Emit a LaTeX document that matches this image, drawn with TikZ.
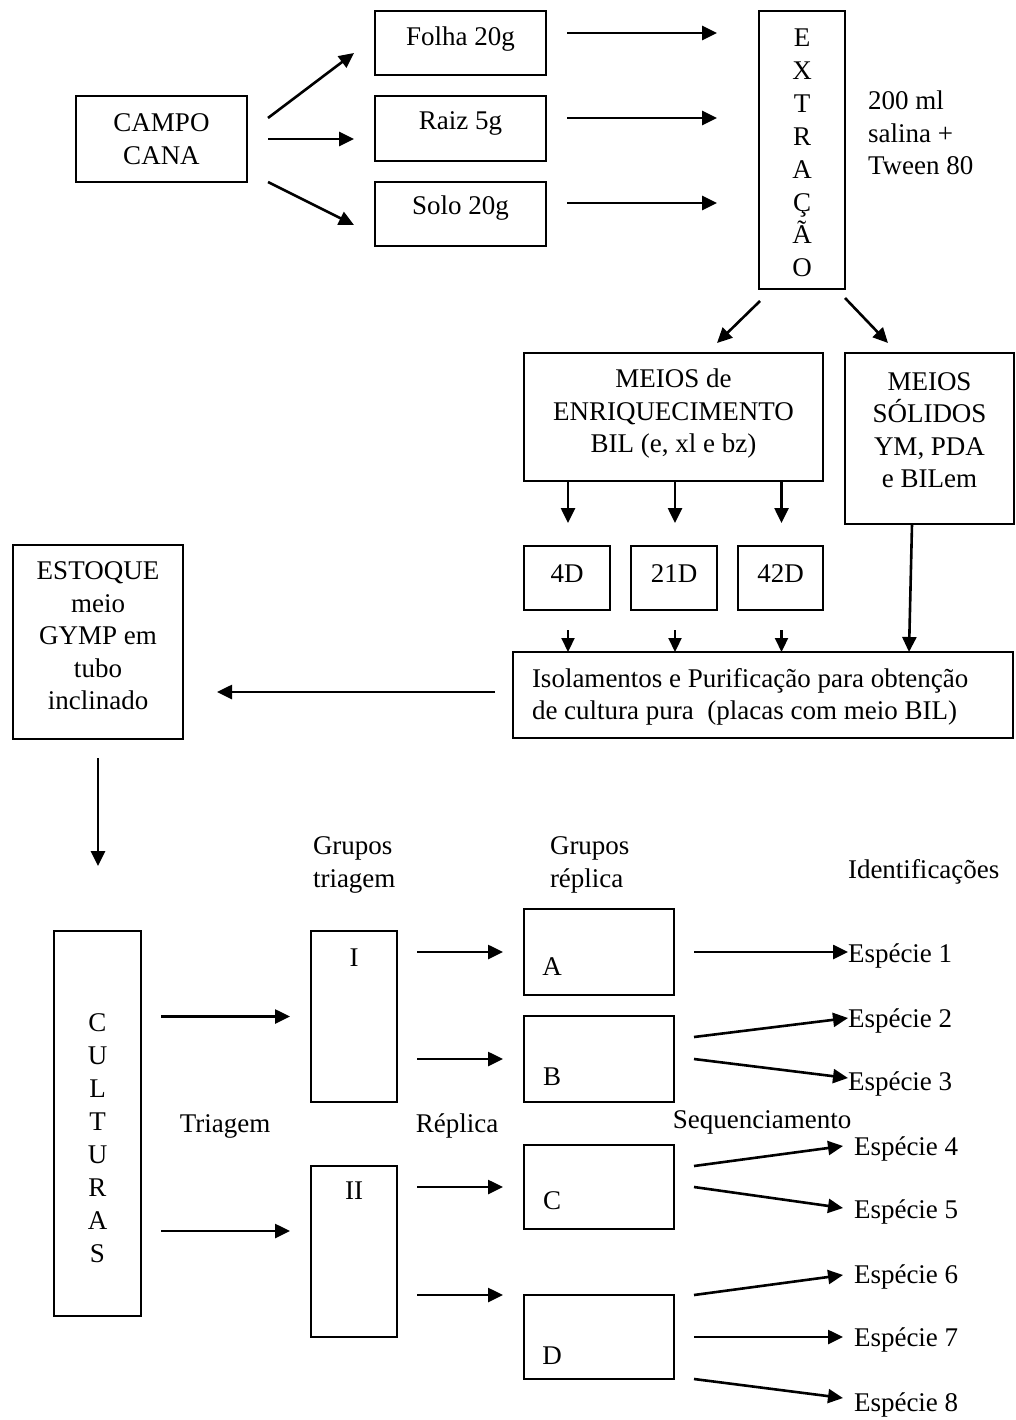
\documentclass[tikz,border=0pt]{standalone}
\usepackage{fontspec}
\setmainfont{Liberation Serif}
\usetikzlibrary{arrows.meta,calc}
\newcommand{\fsz}{\fontsize{27}{32.5}\selectfont}
\begin{document}
\begin{tikzpicture}[x=1pt,y=-1pt,
  box/.style={draw, line width=1.6pt, inner sep=0pt, outer sep=0pt},
  txt/.style={inner sep=0pt, outer sep=0pt, font=\fsz, align=center},
  ltxt/.style={inner sep=0pt, outer sep=0pt, font=\fsz, align=left, anchor=west},
  arr/.style={line width=2.6pt, -{Triangle[length=15pt,width=14pt]}},
  sarr/.style={line width=2.2pt, -{Triangle[length=14pt,width=13pt]}}]
\useasboundingbox[fill=white] (0,0) rectangle (1015,1420);

% ---- boxes ----
\node[box, minimum width=171pt, minimum height=86pt] (campo) at (161.5,139) {};
\node[box, minimum width=171pt, minimum height=64pt] (folha) at (460.5,43) {};
\node[box, minimum width=171pt, minimum height=65pt] (raiz) at (460.5,128.5) {};
\node[box, minimum width=171pt, minimum height=64pt] (solo) at (460.5,214) {};
\node[box, minimum width=86pt, minimum height=278pt] (extr) at (802,150) {};
\node[box, minimum width=299pt, minimum height=128pt] (meios) at (673.5,417) {};
\node[box, minimum width=169pt, minimum height=171pt] (solidos) at (929.5,438.5) {};
\node[box, minimum width=86pt, minimum height=64pt] (d4) at (567,578) {};
\node[box, minimum width=86pt, minimum height=64pt] (d21) at (674,578) {};
\node[box, minimum width=85pt, minimum height=64pt] (d42) at (780.5,578) {};
\node[box, minimum width=500pt, minimum height=86pt] (iso) at (763,695) {};
\node[box, minimum width=170pt, minimum height=194pt] (estoque) at (98,642) {};
\node[box, minimum width=87pt, minimum height=385pt] (cult) at (97.5,1123.5) {};
\node[box, minimum width=86pt, minimum height=171pt] (gI) at (354,1016.5) {};
\node[box, minimum width=86pt, minimum height=171pt] (gII) at (354,1251.5) {};
\node[box, minimum width=150pt, minimum height=86pt] (bA) at (599,952) {};
\node[box, minimum width=150pt, minimum height=86pt] (bB) at (599,1059) {};
\node[box, minimum width=150pt, minimum height=84pt] (bC) at (599,1187) {};
\node[box, minimum width=150pt, minimum height=84pt] (bD) at (599,1337) {};

% ---- texts ----
\node[txt] (tcampo) at (161.5,139) {CAMPO\\CANA};
\node[txt] (tfolha) at (460.5,39) {Folha 20g};
\node[txt] (traiz) at (460.5,123) {Raiz 5g};
\node[txt] (tsolo) at (460.5,208) {Solo 20g};
\node[txt, font=\fontsize{27}{32.9}\selectfont] (textr) at (802,153) {E\\X\\T\\R\\A\\Ç\\Ã\\O};
\node[ltxt] (tsal) at (868,133) {200 ml\\salina +\\Tween 80};
\node[txt] (tmeios) at (673.5,414) {MEIOS de\\ENRIQUECIMENTO\\BIL (e, xl e bz)};
\node[txt] (tsol) at (929.5,430) {MEIOS\\SÓLIDOS\\YM, PDA\\e BILem};
\node[txt] (t4) at (567,574) {4D};
\node[txt] (t21) at (674,574) {21D};
\node[txt] (t42) at (780.5,574) {42D};
\node[ltxt] (tiso) at (532,697) {Isolamentos e Purificação para obtenção\\de cultura pura\ \ (placas com meio BIL)};
\node[txt] (test) at (98,636) {ESTOQUE\\meio\\GYMP em\\tubo\\inclinado};
\node[ltxt] (tgt) at (313,865) {Grupos\\triagem};
\node[ltxt] (tgr) at (550,865) {Grupos\\réplica};
\node[ltxt] (tid) at (848,872) {Identificações};
\node[txt, font=\fontsize{27}{33}\selectfont] (tcult) at (97.5,1138) {C\\U\\L\\T\\U\\R\\A\\S};
\node[txt] (ttri) at (225,1126) {Triagem};
\node[txt] (trep) at (457,1126) {Réplica};
\node[txt] (tI) at (354,958) {I};
\node[txt] (tII) at (354,1191) {II};
\node[txt] (tA) at (552,967) {A};
\node[txt] (tB) at (552,1077) {B};
\node[txt] (tC) at (552,1201) {C};
\node[txt] (tD) at (552,1356) {D};
\node[txt] (tseq) at (762,1122) {Sequenciamento};
\node[ltxt] (e1) at (848,956) {Espécie 1};
\node[ltxt] (e2) at (848,1021) {Espécie 2};
\node[ltxt] (e3) at (848,1084) {Espécie 3};
\node[ltxt] (e4) at (854,1149) {Espécie 4};
\node[ltxt] (e5) at (854,1212) {Espécie 5};
\node[ltxt] (e6) at (854,1277) {Espécie 6};
\node[ltxt] (e7) at (854,1340) {Espécie 7};
\node[ltxt] (e8) at (854,1405) {Espécie 8};

% ---- connectors ----
\draw[arr] ($(campo.east)+(21,-21)$) -- ($(folha.west)+(-21,10)$);
\draw[arr] ($(campo.east)+(21,0)$) -- ($(raiz.west)+(-21,10.5)$);
\draw[arr] ($(campo.east)+(21,43)$) -- ($(solo.west)+(-21,11)$);
\draw[arr] ($(folha.east)+(21,-10)$) -- ($(extr.west)+(-42,-117)$);
\draw[arr] ($(raiz.east)+(21,-10.5)$) -- ($(extr.west)+(-42,-32)$);
\draw[arr] ($(solo.east)+(21,-11)$) -- ($(extr.west)+(-42,53)$);
\draw[arr] ($(extr.south west)+(1,12)$) -- ($(meios.north)+(43.5,-10)$);
\draw[arr] ($(extr.south east)+(0,9)$) -- ($(solidos.north)+(-41.5,-10)$);
\foreach \n in {d4,d21,d42}{
  \draw[arr] ($(\n.north |- meios.south)+(1,0)$) -- ($(\n.north)+(1,-23)$);
  \draw[sarr] ($(\n.south)+(1,20)$) -- ($(\n.south |- iso.north)+(1,0)$);
}
\draw[arr] ($(solidos.south)+(-17.5,0)$) -- ($(iso.north)+(146,0)$);
\draw[arr] ($(iso.west)+(-18,-3)$) -- ($(estoque.east)+(34,50)$);
\draw[arr] ($(estoque.south)+(0,19)$) -- ($(cult.north)+(0.5,-65)$);
\draw[arr] ($(cult.east |- gI.west)+(20,0)$) -- ($(gI.west)+(-21,0)$);
\draw[arr] ($(cult.east)+(20,107.5)$) -- ($(gII.west)+(-21,-20.5)$);
\draw[arr] ($(gI.east |- bA.west)+(20,0)$) -- ($(bA.west)+(-21,0)$);
\draw[arr] ($(gI.east |- bB.west)+(20,0)$) -- ($(bB.west)+(-21,0)$);
\draw[arr] ($(gII.east |- bC.west)+(20,0)$) -- ($(bC.west)+(-21,0)$);
\draw[arr] ($(gII.east |- bD.north west)+(20,0)$) -- ($(bD.north west)+(-21,0)$);
\draw[arr] ($(bA.east)+(20,0)$) -- ($(e1.west)+(0,-4)$);
\draw[arr] ($(bB.east)+(20,-22)$) -- ($(e2.west)+(0,-3)$);
\draw[arr] ($(bB.east)+(20,0)$) -- ($(e3.west)+(0,-6)$);
\draw[arr] ($(bC.east)+(20,-21)$) -- ($(e4.west)+(-11,-3)$);
\draw[arr] ($(bC.east)+(20,0)$) -- ($(e5.west)+(-11,-4)$);
\draw[arr] ($(bD.east)+(20,-42)$) -- ($(e6.west)+(-11,-2)$);
\draw[arr] ($(bD.east)+(20,0)$) -- ($(e7.west)+(-11,-3)$);
\draw[arr] ($(bD.east)+(20,42)$) -- ($(e8.west)+(-11,-7)$);
\end{tikzpicture}
\end{document}
